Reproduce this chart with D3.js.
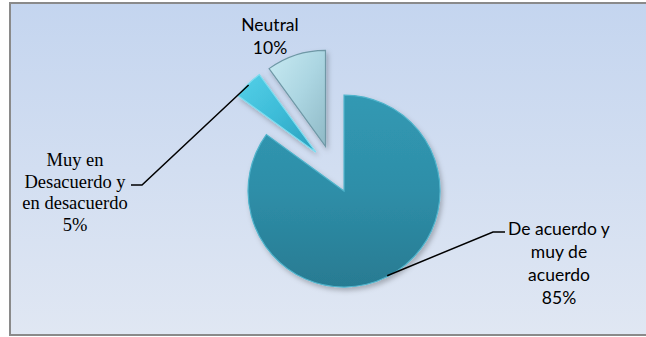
<!DOCTYPE html>
<html>
<head>
<meta charset="utf-8">
<script src="https://cdn.jsdelivr.net/npm/d3@7"></script>
<style>
  body { margin: 0; background: #fff; }
</style>
</head>
<body>
<div id="chart"></div>
<script>
// données du graphique
const categories = ["De acuerdo y muy de acuerdo", "Muy en Desacuerdo y en desacuerdo", "Neutral"]
const values = [85, 5, 10]
const labelLines = [
  ["De acuerdo y", "muy de", "acuerdo", "85%"],
  ["Muy en", "Desacuerdo y", "en desacuerdo", "5%"],
  ["Neutral", "10%"]
]

const WIDTH = 646
const HEIGHT = 337
const CX = 333, CY = 169.4, R = 96, EXPLODE = 24.3

const svg = d3.select("#chart")
  .append("svg")
  .attr("width", WIDTH)
  .attr("height", HEIGHT)

const defs = svg.append("defs")

// fond
const bg = defs.append("linearGradient").attr("id", "bg")
  .attr("x1", 0).attr("y1", 0).attr("x2", 0).attr("y2", 1)
bg.append("stop").attr("offset", "0%").attr("stop-color", "#c4d5ef")
bg.append("stop").attr("offset", "100%").attr("stop-color", "#e0e7f3")

// couleurs des parts
const grads = [
  { id: "g0", x2: 0, y2: 1, stops: ["#3199b3", "#2e8ea8", "#287b92"] },
  { id: "g1", x2: 1, y2: 1, stops: ["#55d0e8", "#3dbcd8", "#2a9fbd"] },
  { id: "g2", x2: 1, y2: 1, stops: ["#c8eaf2", "#acd6e2", "#8fb9c6"] }
]
grads.forEach(g => {
  const lg = defs.append("linearGradient").attr("id", g.id)
    .attr("x1", 0).attr("y1", 0).attr("x2", g.x2).attr("y2", g.y2)
  g.stops.forEach((c, i) => lg.append("stop")
    .attr("offset", (i * 50) + "%").attr("stop-color", c))
})

const shadow = defs.append("filter").attr("id", "shadow")
  .attr("x", "-20%").attr("y", "-20%").attr("width", "150%").attr("height", "150%")
shadow.append("feDropShadow")
  .attr("dx", 2).attr("dy", 3).attr("stdDeviation", 2.5)
  .attr("flood-color", "#000").attr("flood-opacity", 0.25)

svg.append("rect")
  .attr("x", 10).attr("y", 3)
  .attr("width", WIDTH).attr("height", 332)
  .attr("fill", "url(#bg)")
  .attr("stroke", "#8a8a8a")
  .attr("stroke-width", 2)

const pie = d3.pie().sort(null).value(d => d)
const arcs = pie(values)
const arc = d3.arc().innerRadius(0).outerRadius(R)

function offset(d, dist) {
  const a = (d.startAngle + d.endAngle) / 2
  return [Math.sin(a) * dist, -Math.cos(a) * dist]
}

const g = svg.append("g").attr("transform", `translate(${CX},${CY})`)

g.selectAll("path.slice")
  .data(arcs)
  .enter()
  .append("path")
    .attr("class", "slice")
    .attr("d", arc)
    .attr("transform", d => `translate(${offset(d, EXPLODE)})`)
    .attr("fill", (d, i) => `url(#g${i})`)
    .attr("stroke", (d, i) => ["#4fb3cb", "#7ddcef", "#6f98a6"][i])
    .attr("stroke-width", 1.2)
    .attr("filter", "url(#shadow)")

// étiquettes
const labelLayout = [
  { x: 559, y: 235, lh: 23, font: "Lato, 'Open Sans', sans-serif", size: 17.5, elbow: [493, 232], end: [505, 232] },
  { x: 75, y: 166, lh: 21.5, font: "'Liberation Serif', 'DejaVu Serif', serif", size: 18.5, elbow: [142, 185], end: [131, 185] },
  { x: 270, y: 31, lh: 23, font: "Lato, 'Open Sans', sans-serif", size: 17.5, elbow: null }
]

arcs.forEach((d, i) => {
  const L = labelLayout[i]
  if (L.elbow) {
    const o = offset(d, EXPLODE)
    const p = offset(d, R - 1)
    svg.append("polyline")
      .attr("points", [[CX + o[0] + p[0], CY + o[1] + p[1]], L.elbow, L.end].map(q => q.join(",")).join(" "))
      .attr("fill", "none")
      .attr("stroke", "#000")
      .attr("stroke-width", 1.5)
  }
  const t = svg.append("text")
    .attr("text-anchor", "middle")
    .attr("font-family", L.font)
    .attr("font-size", L.size)
    .attr("fill", "#000")
  labelLines[i].forEach((line, j) => {
    t.append("tspan").attr("x", L.x).attr("y", L.y + j * L.lh).text(line)
  })
})
</script>
</body>
</html>
